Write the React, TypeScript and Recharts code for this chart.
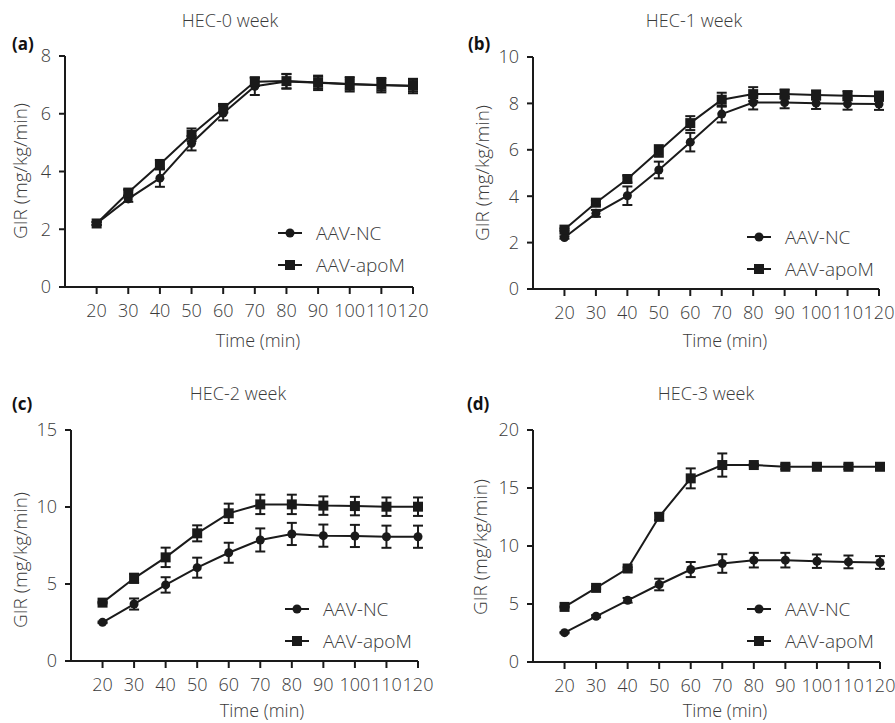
import { LineChart, Line, XAxis, YAxis, ErrorBar, Legend } from "recharts"

const INK = "#1a1a1a"
const TEXT = "#3a3a3a"
const FONT = "'Open Sans', sans-serif"

const times = [20, 30, 40, 50, 60, 70, 80, 90, 100, 110, 120]
const seriesNames = ["AAV-NC", "AAV-apoM"]
const titles = ["HEC-0 week", "HEC-1 week", "HEC-2 week", "HEC-3 week"]
const letters = ["(a)", "(b)", "(c)", "(d)"]

// HEC-0 week
const nc0 = [2.2, 3.05, 3.77, 4.98, 6.02, 6.95, 7.12, 7.07, 7.02, 6.99, 6.96]
const nc0Err = [0.05, 0.1, 0.3, 0.25, 0.25, 0.3, 0.25, 0.25, 0.25, 0.25, 0.25]
const apo0 = [2.2, 3.27, 4.25, 5.27, 6.19, 7.11, 7.13, 7.08, 7.03, 7.0, 6.97]
const apo0Err = [0.05, 0.1, 0.15, 0.22, 0.15, 0.15, 0.25, 0.2, 0.2, 0.2, 0.2]

// HEC-1 week
const nc1 = [2.22, 3.26, 4.02, 5.13, 6.33, 7.54, 8.04, 8.04, 8.01, 7.98, 7.97]
const nc1Err = [0.05, 0.15, 0.4, 0.36, 0.4, 0.36, 0.3, 0.25, 0.25, 0.25, 0.25]
const apo1 = [2.56, 3.72, 4.74, 5.95, 7.15, 8.16, 8.4, 8.4, 8.36, 8.33, 8.31]
const apo1Err = [0.05, 0.1, 0.15, 0.25, 0.3, 0.3, 0.3, 0.2, 0.2, 0.2, 0.2]

// HEC-2 week
const nc2 = [2.51, 3.7, 4.94, 6.06, 7.03, 7.86, 8.25, 8.14, 8.12, 8.07, 8.07]
const nc2Err = [0.05, 0.36, 0.5, 0.65, 0.65, 0.75, 0.72, 0.72, 0.72, 0.72, 0.72]
const apo2 = [3.79, 5.37, 6.73, 8.29, 9.59, 10.17, 10.17, 10.09, 10.06, 10.02, 10.02]
const apo2Err = [0.05, 0.3, 0.63, 0.52, 0.63, 0.63, 0.63, 0.6, 0.6, 0.6, 0.6]

// HEC-3 week
const nc3 = [2.53, 3.94, 5.32, 6.68, 7.97, 8.49, 8.78, 8.78, 8.69, 8.63, 8.58]
const nc3Err = [0.05, 0.1, 0.2, 0.5, 0.65, 0.8, 0.63, 0.63, 0.58, 0.55, 0.55]
const apo3 = [4.75, 6.39, 8.06, 12.52, 15.83, 16.98, 16.98, 16.83, 16.83, 16.83, 16.83]
const apo3Err = [0.05, 0.1, 0.1, 0.3, 0.86, 1.0, 0.1, 0.2, 0.2, 0.2, 0.2]

const yTicks = [
  [0, 2, 4, 6, 8],
  [0, 2, 4, 6, 8, 10],
  [0, 5, 10, 15],
  [0, 5, 10, 15, 20],
]

const toRows = (nc, ncErr, apo, apoErr) =>
  times.map((t, i) => ({ time: t, nc: nc[i], ncErr: ncErr[i], apo: apo[i], apoErr: apoErr[i] }))

const datasets = [
  toRows(nc0, nc0Err, apo0, apo0Err),
  toRows(nc1, nc1Err, apo1, apo1Err),
  toRows(nc2, nc2Err, apo2, apo2Err),
  toRows(nc3, nc3Err, apo3, apo3Err),
]

// panel placement, all in px relative to each panel box
const layouts = [
  { left: 0, top: 0, w: 450, h: 360, yW: 65, mTop: 56, mRight: 37, bottom: 73,
    title: [230, 20], letter: [12, 43], yLab: [20, 171], xLab: [258, 340], legend: [278, 233] },
  { left: 445, top: 0, w: 450, h: 360, yW: 88, mTop: 57, mRight: 16, bottom: 71,
    title: [249, 20], letter: [23, 43], yLab: [37, 173], xLab: [280, 340], legend: [302, 237] },
  { left: 0, top: 360, w: 450, h: 363, yW: 71, mTop: 70, mRight: 32, bottom: 62,
    title: [238, 33], letter: [12, 43], yLab: [20, 200], xLab: [262, 350], legend: [285, 249] },
  { left: 445, top: 360, w: 450, h: 363, yW: 88, mTop: 70, mRight: 15, bottom: 61,
    title: [261, 33], letter: [22, 43], yLab: [35, 187], xLab: [280, 350], legend: [302, 249] },
]

const SquareDot = (props) => {
  const { cx, cy, index } = props
  if (cx == null || cy == null) return null
  return <rect key={`sq-${index}`} x={cx - 5} y={cy - 5} width={10} height={10} fill={INK} />
}

const renderLegend = (props) => (
  <div style={{ fontFamily: FONT }}>
    {(props.payload || []).map((entry, i) => (
      <div key={`leg-${i}`} style={{ display: "flex", alignItems: "center", height: 32 }}>
        <svg width={24} height={12}>
          <line x1={0} y1={6} x2={24} y2={6} stroke={INK} strokeWidth={2} />
          {entry.dataKey === "nc" ? (
            <circle cx={12} cy={6} r={4.5} fill={INK} />
          ) : (
            <rect x={7} y={1} width={10} height={10} fill={INK} />
          )}
        </svg>
        <span style={{ marginLeft: 14, fontSize: 19, fontWeight: 300, color: TEXT, lineHeight: 1 }}>{entry.value}</span>
      </div>
    ))}
  </div>
)

const centered = (x, y, extra = {}) => ({
  position: "absolute",
  left: x,
  top: y,
  transform: "translate(-50%, -50%)",
  whiteSpace: "nowrap",
  lineHeight: 1,
  fontFamily: FONT,
  fontWeight: 300,
  color: TEXT,
  ...extra,
})

function Panel({ idx }) {
  const L = layouts[idx]
  const ticks = yTicks[idx]
  const tickStyle = { fontSize: 18, fill: TEXT, fontFamily: FONT, fontWeight: 300 }
  return (
    <div style={{ position: "absolute", left: L.left, top: L.top, width: L.w, height: L.h }}>
      <LineChart
        width={L.w}
        height={L.h}
        data={datasets[idx]}
        margin={{ top: L.mTop, right: L.mRight, bottom: L.bottom - 60, left: 0 }}
      >
        <XAxis
          dataKey="time"
          type="number"
          domain={[10, 120]}
          ticks={times}
          height={60}
          tickSize={7}
          tickMargin={10}
          interval={0}
          stroke={INK}
          strokeWidth={2}
          tick={tickStyle}
        />
        <YAxis
          type="number"
          domain={[ticks[0], ticks[ticks.length - 1]]}
          ticks={ticks}
          width={L.yW}
          tickSize={6}
          tickMargin={8}
          interval={0}
          stroke={INK}
          strokeWidth={2}
          tick={tickStyle}
        />
        <Legend
          content={renderLegend}
          layout="horizontal"
          verticalAlign="middle"
          align="center"
          wrapperStyle={{ left: L.legend[0], top: L.legend[1] - 16, width: "auto", height: "auto" }}
        />
        <Line
          dataKey="nc"
          name={seriesNames[0]}
          stroke={INK}
          strokeWidth={2}
          dot={{ r: 4.5, fill: INK, stroke: INK, strokeWidth: 0 }}
          isAnimationActive={false}
        >
          <ErrorBar dataKey="ncErr" direction="y" width={5} stroke={INK} strokeWidth={2} />
        </Line>
        <Line
          dataKey="apo"
          name={seriesNames[1]}
          stroke={INK}
          strokeWidth={2}
          dot={SquareDot}
          isAnimationActive={false}
        >
          <ErrorBar dataKey="apoErr" direction="y" width={5} stroke={INK} strokeWidth={2} />
        </Line>
      </LineChart>
      <div style={centered(L.title[0], L.title[1], { fontSize: 18 })}>{titles[idx]}</div>
      <div
        style={{
          position: "absolute",
          left: L.letter[0],
          top: L.letter[1],
          transform: "translateY(-50%)",
          lineHeight: 1,
          fontFamily: FONT,
          fontWeight: 700,
          fontSize: 17,
          color: "#111",
        }}
      >
        {letters[idx]}
      </div>
      <div style={centered(L.yLab[0], L.yLab[1], { fontSize: 19, transform: "translate(-50%, -50%) rotate(-90deg)" })}>
        GIR (mg/kg/min)
      </div>
      <div style={centered(L.xLab[0], L.xLab[1], { fontSize: 18 })}>Time (min)</div>
    </div>
  )
}

export default function App() {
  return (
    <div style={{ position: "absolute", left: 0, top: 0, width: 895, height: 723, background: "#fff" }}>
      {[0, 1, 2, 3].map((i) => (
        <Panel key={i} idx={i} />
      ))}
    </div>
  )
}
